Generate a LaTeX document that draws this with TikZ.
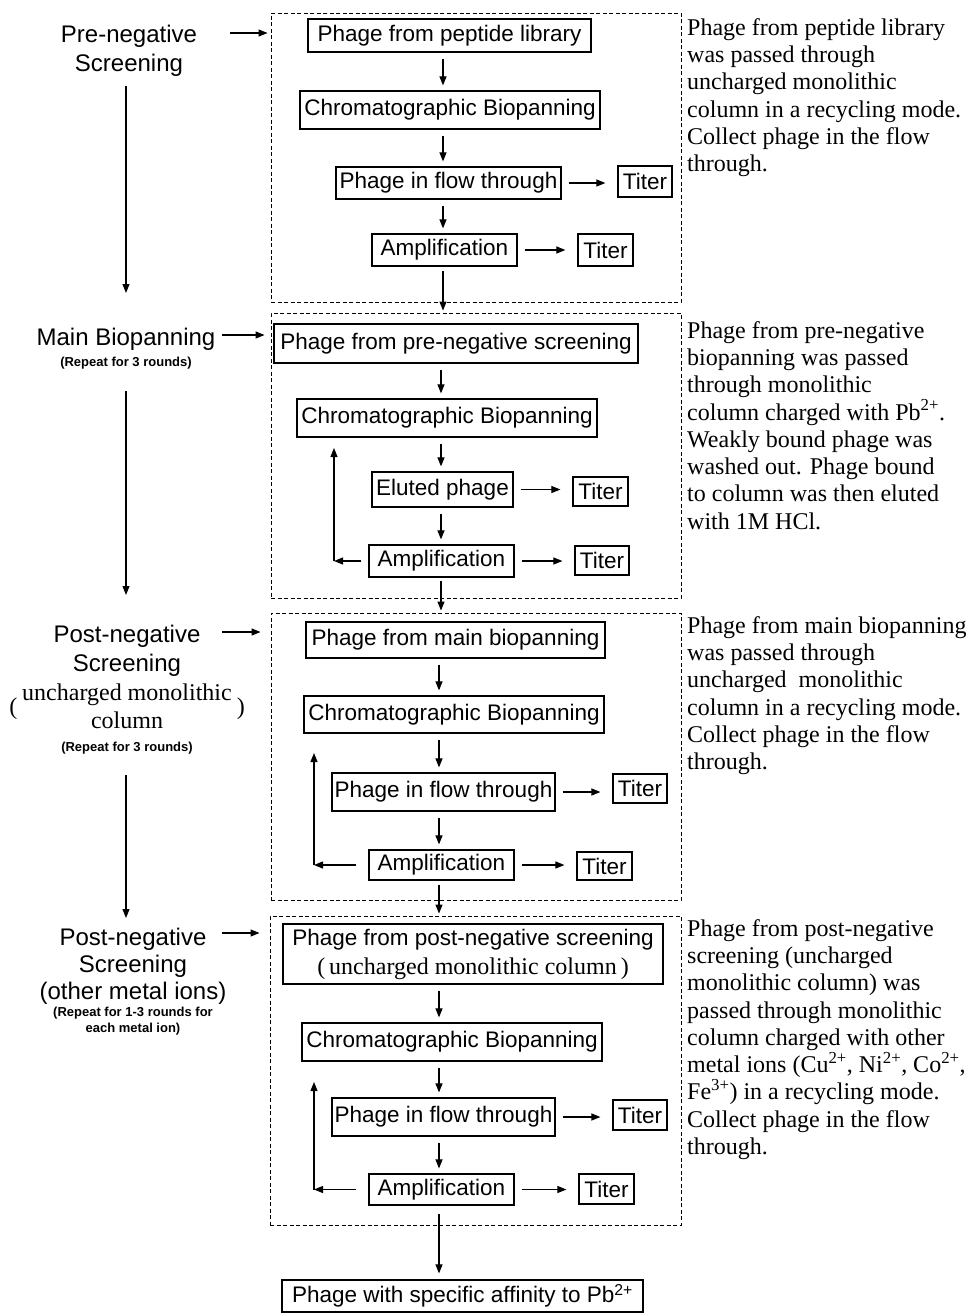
\documentclass[tikz,border=0pt]{standalone}
\usepackage{fontspec}
\setmainfont{Liberation Sans}
\newfontfamily\timesfont{Liberation Serif}
\usepackage{tikz}
\usetikzlibrary{arrows.meta,positioning}

\newcommand{\boxfont}{\fontsize{22.5}{29}\selectfont}
\newcommand{\sidefont}{\fontsize{24}{28.5}\selectfont}
\newcommand{\repfont}{\fontsize{13}{16}\selectfont\bfseries}
\newcommand{\notefont}{\timesfont\fontsize{24}{27.3}\selectfont}
\newcommand{\colfont}{\timesfont\fontsize{24}{28}\selectfont}

\begin{document}
\begin{tikzpicture}[x=1pt,y=-1pt,
    stepbox/.style={draw, line width=1.2pt, font=\boxfont, inner xsep=2pt, inner ysep=0pt},
    stage/.style={draw, line width=0.9pt, dash pattern=on 4pt off 2.5pt, inner sep=0pt},
    sidelab/.style={font=\sidefont, align=center, inner sep=0pt, anchor=north},
    repnote/.style={font=\repfont, align=center, inner sep=0pt},
    note/.style={font=\notefont, align=left, inner sep=0pt, anchor=north west},
    arr/.style={line width=1.1pt, -{Triangle[length=9pt,width=7pt]}},
    down/.style={arr, shorten <=6pt, shorten >=5pt},
    side/.style={arr, shorten <=7pt, shorten >=12pt}]
    \useasboundingbox (0,0) rectangle (976,1315);

    % dashed stages
    \node[stage, minimum width=410, minimum height=289] (sec1) at (476,157.5) {};
    \node[stage, minimum width=410, minimum height=285] (sec2) at (476,455.5) {};
    \node[stage, minimum width=410, minimum height=287] (sec3) at (476,756.5) {};
    \node[stage, minimum width=411, minimum height=309] (sec4) at (475.5,1070.5) {};

    % left column
    \coordinate (lx) at (126,0);
    \node[sidelab] (prelab) at (129,25) {Pre-negative\\Screening};
    \node[sidelab] (mainlab) at (126,328) {Main Biopanning};
    \node[repnote, below=6pt of mainlab] (mainrep) {(Repeat for 3 rounds)};
    \node[sidelab] (postlab) at (127,625) {Post-negative\\Screening};
    \node[font=\colfont, inner sep=0pt, below=4pt of postlab] (postcol)
        {\begin{tabular}{@{}c@{\hspace{5pt}}c@{\hspace{5pt}}c@{}}(&\begin{tabular}{@{}c@{}}uncharged monolithic\\column\end{tabular}&)\end{tabular}};
    \node[repnote, below=5pt of postcol] (postrep) {(Repeat for 3 rounds)};
    \node[sidelab, font=\fontsize{24}{27}\selectfont] (post2lab) at (133,928) {Post-negative\\Screening\\(other metal ions)};
    \node[repnote, below=2pt of post2lab] (post2rep) {(Repeat for 1-3 rounds for\\each metal ion)};

    \draw[arr, shorten <=10pt, shorten >=35pt] (prelab.south -| lx) -- (mainlab.north -| lx);
    \draw[arr, shorten <=22pt, shorten >=30pt] (mainrep.south -| lx) -- (postlab.north -| lx);
    \draw[arr, shorten <=21pt, shorten >=10pt] (postrep.south -| lx) -- (post2lab.north -| lx);

    \coordinate (preout) at (230,33);
    \coordinate (mainout) at (222,335);
    \coordinate (postout) at (222,632);
    \coordinate (post2out) at (222,933);
    \draw[arr, shorten >=3pt] (preout) -- (sec1.west |- preout);
    \draw[arr, shorten >=6pt] (mainout) -- (sec2.west |- mainout);
    \draw[arr, shorten >=10pt] (postout) -- (sec3.west |- postout);
    \draw[arr, shorten >=10pt] (post2out) -- (sec4.west |- post2out);

    % stage 1
    \coordinate (c1) at (443,0);
    \node[stepbox, minimum width=283, minimum height=33] (lib1) at (449.5,35.5) {Phage from peptide library};
    \node[stepbox, minimum width=300, minimum height=38] (chrom1) at (450,110) {Chromatographic Biopanning};
    \node[stepbox, minimum width=225, minimum height=32] (flow1) at (448.5,183) {Phage in flow through};
    \node[stepbox, minimum width=54, minimum height=31] (titA1) at (645,181.5) {Titer};
    \node[stepbox, minimum width=145, minimum height=32] (amp1) at (444.5,250) {Amplification};
    \node[stepbox, minimum width=55, minimum height=32] (titB1) at (605.5,250) {Titer};
    \draw[down] (lib1.south -| c1) -- (chrom1.north -| c1);
    \draw[down] (chrom1.south -| c1) -- (flow1.north -| c1);
    \draw[down] (flow1.south -| c1) -- (amp1.north -| c1);
    \draw[side] (flow1.east) -- (titA1.west |- flow1.east);
    \draw[side] (amp1.east) -- (titB1.west |- amp1.east);
    \draw[arr, shorten <=4pt, shorten >=2pt] (amp1.south -| c1) -- (sec2.north -| c1);

    % stage 2
    \coordinate (c2) at (441,0);
    \node[stepbox, minimum width=364, minimum height=39] (pre2) at (456,343.5) {Phage from pre-negative screening};
    \node[stepbox, minimum width=300, minimum height=38] (chrom2) at (447,418) {Chromatographic Biopanning};
    \node[stepbox, minimum width=141, minimum height=35] (elu2) at (442.5,489.5) {Eluted phage};
    \node[stepbox, minimum width=55, minimum height=29] (titA2) at (600.5,491.5) {Titer};
    \node[stepbox, minimum width=145, minimum height=32] (amp2) at (441.5,561) {Amplification};
    \node[stepbox, minimum width=54, minimum height=29] (titB2) at (602,560.5) {Titer};
    \draw[down] (pre2.south -| c2) -- (chrom2.north -| c2);
    \draw[down] (chrom2.south -| c2) -- (elu2.north -| c2);
    \draw[down] (elu2.south -| c2) -- (amp2.north -| c2);
    \draw[side] (elu2.east) -- (titA2.west |- elu2.east);
    \draw[side] (amp2.east) -- (titB2.west |- amp2.east);
    \coordinate (bend2) at (334,561);
    \coordinate (back2) at (334,448);
    \draw[arr, shorten <=7pt] (amp2.west) -- (bend2);
    \draw[arr] (bend2) -- (back2);
    \draw[arr, shorten <=3pt, shorten >=2pt] (amp2.south -| c2) -- (sec3.north -| c2);

    % stage 3
    \coordinate (c3) at (439,0);
    \node[stepbox, minimum width=299, minimum height=36] (main3) at (455.5,640) {Phage from main biopanning};
    \node[stepbox, minimum width=300, minimum height=37] (chrom3) at (454,714.5) {Chromatographic Biopanning};
    \node[stepbox, minimum width=223, minimum height=38] (flow3) at (443.5,792) {Phage in flow through};
    \node[stepbox, minimum width=54, minimum height=29] (titA3) at (640,788.5) {Titer};
    \node[stepbox, minimum width=145, minimum height=30] (amp3) at (441.5,865) {Amplification};
    \node[stepbox, minimum width=55, minimum height=28] (titB3) at (604.5,866) {Titer};
    \draw[down] (main3.south -| c3) -- (chrom3.north -| c3);
    \draw[down] (chrom3.south -| c3) -- (flow3.north -| c3);
    \draw[down] (flow3.south -| c3) -- (amp3.north -| c3);
    \draw[side] (flow3.east) -- (titA3.west |- flow3.east);
    \draw[side] (amp3.east) -- (titB3.west |- amp3.east);
    \coordinate (bend3) at (314,865);
    \coordinate (back3) at (314,753);
    \draw[arr, shorten <=12pt] (amp3.west) -- (bend3);
    \draw[arr] (bend3) -- (back3);
    \draw[arr, shorten <=4pt, shorten >=2pt] (amp3.south -| c3) -- (sec4.north -| c3);

    % stage 4
    \coordinate (c4) at (439,0);
    \node[stepbox, minimum width=380, minimum height=60, align=center] (post4) at (473,954)
        {Phage from post-negative screening\\{\colfont (\,uncharged monolithic column\,)}};
    \node[stepbox, minimum width=300, minimum height=38] (chrom4) at (452,1042) {Chromatographic Biopanning};
    \node[stepbox, minimum width=223, minimum height=38] (flow4) at (443.5,1117) {Phage in flow through};
    \node[stepbox, minimum width=54, minimum height=30] (titA4) at (640,1115) {Titer};
    \node[stepbox, minimum width=145, minimum height=31] (amp4) at (441.5,1189.5) {Amplification};
    \node[stepbox, minimum width=55, minimum height=30] (titB4) at (606.5,1189) {Titer};
    \draw[down] (post4.south -| c4) -- (chrom4.north -| c4);
    \draw[down] (chrom4.south -| c4) -- (flow4.north -| c4);
    \draw[down] (flow4.south -| c4) -- (amp4.north -| c4);
    \draw[side] (flow4.east) -- (titA4.west |- flow4.east);
    \draw[side] (amp4.east) -- (titB4.west |- amp4.east);
    \coordinate (bend4) at (314,1189.5);
    \coordinate (back4) at (314,1082);
    \draw[arr, shorten <=12pt] (amp4.west) -- (bend4);
    \draw[arr] (bend4) -- (back4);

    \node[stepbox, minimum width=361, minimum height=32] (final) at (462.5,1296) {Phage with specific affinity to Pb\textsuperscript{2+}};
    \draw[arr, shorten <=8pt, shorten >=6pt] (amp4.south -| c4) -- (final.north -| c4);

    % notes on the right
    \node[note] (note1) at (687,18) {Phage from peptide library\\was passed through\\uncharged monolithic\\column in a recycling mode.\\Collect phage in the flow\\through.};
    \node[note] (note2) at (687,321) {Phage from pre-negative\\biopanning was passed\\through monolithic\\column charged with Pb\textsuperscript{2+}.\\Weakly bound phage was\\washed out. Phage bound\\to column was then eluted\\with 1M HCl.};
    \node[note] (note3) at (687,616) {Phage from main biopanning\\was passed through\\uncharged\ \ monolithic\\column in a recycling mode.\\Collect phage in the flow\\through.};
    \node[note] (note4) at (687,919) {Phage from post-negative\\screening (uncharged\\monolithic column) was\\passed through monolithic\\column charged with other\\metal ions (Cu\textsuperscript{2+}, Ni\textsuperscript{2+}, Co\textsuperscript{2+},\\Fe\textsuperscript{3+}) in a recycling mode.\\Collect phage in the flow\\through.};
\end{tikzpicture}
\end{document}
